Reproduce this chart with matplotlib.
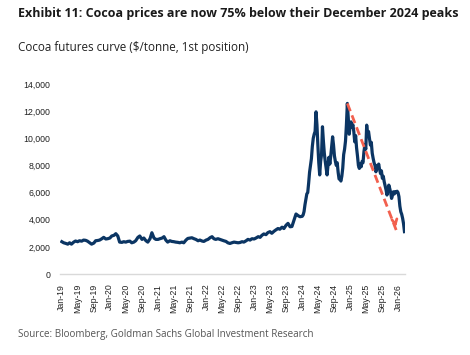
import numpy as np
import pandas as pd
from matplotlib import pyplot as plt

# cocoa 1st position, $/tonne
# 2019-2023 read twice a month, 2024 onward read weekly
early_values = [
    2380, 2300, 2250, 2200, 2300, 2200, 2350, 2430, 2380, 2450, 2420, 2500,
    2480, 2420, 2300, 2200, 2280, 2450, 2470, 2500, 2600, 2700, 2580, 2600,
    2650, 2800, 2850, 2970, 2800, 2350, 2330, 2380, 2350, 2400, 2420, 2300,
    2350, 2450, 2700, 2800, 2550, 2650, 2450, 2350, 2600, 3040, 2650, 2550,
    2550, 2600, 2650, 2750, 2500, 2350, 2450, 2400, 2380, 2350, 2330, 2300,
    2350, 2300, 2500, 2620, 2650, 2670, 2600, 2550, 2450, 2500, 2430, 2400,
    2500, 2550, 2680, 2750, 2600, 2550, 2600, 2550, 2500, 2450, 2400, 2300,
    2250, 2300, 2350, 2330, 2300, 2320, 2380, 2350, 2450, 2550, 2500, 2600,
    2580, 2650, 2750, 2700, 2850, 2950, 2900, 3050, 3120, 3000, 3150, 3250,
    3350, 3300, 3450, 3350, 3600, 3730, 3480, 3500, 4000, 4420, 4300, 4220,
]
late_values = [
    4250, 4350, 4600, 5100, 5500, 5900, 6000, 6700, 7500, 8000, 8500, 9400,
    10000, 10300, 10500, 11950, 11000, 9500, 8200, 7300, 8300, 8800, 10850, 9800,
    8900, 8300, 7800, 7300, 8000, 8600, 8100, 8700, 9400, 10110, 9500, 8700,
    8300, 8000, 8200, 7500, 7000, 7000, 6850, 7200, 7800, 8800, 9200, 9800,
    11000, 12570, 11500, 10300, 10900,
    11210, 10800, 11000, 10500, 9740, 10200, 9300, 8700, 8000, 7780, 8100, 7900,
    8300, 8200, 9000, 9500, 9200, 10970, 10200, 10500, 9990, 9500, 9700, 8900,
    8520, 8200, 8000, 7530, 8000, 7780, 8100, 7700, 7400, 7600, 7050, 7200,
    6800, 6500, 6200, 5820, 6100, 6550, 6300, 6000, 5570, 5800, 6060, 5900,
    6060, 6000, 6100, 6000,
    5700, 5000, 4590, 4400, 4100, 3700, 3120,
]
early_dates = pd.date_range('2019-01-01', periods=len(early_values), freq='SMS')
late_dates = pd.date_range('2024-01-01', periods=len(late_values), freq='W-MON')
dates = early_dates.append(late_dates)
prices = np.array(early_values + late_values)

arrow_end = (pd.Timestamp('2025-12-15'), 3240)
tick_dates = pd.date_range('2019-01-01', '2026-01-01', freq='4MS')

navy = '#0b3563'
salmon = '#f2604e'

fig = plt.figure(figsize=(4.7, 3.55), dpi=100)
ax = fig.add_axes([60/470, 1-274/355, 345/470, 190/355])

ax.plot(dates, prices, color=navy, lw=2.3, solid_joinstyle='round')

# dashed arrow from the December 2024 peak
i_peak = int(np.argmax(prices))
start = (dates[i_peak], prices[i_peak])
ax.plot([start[0], arrow_end[0]], [start[1], arrow_end[1]], color=salmon, lw=2.0,
        ls=(0, (3, 1.6)), zorder=3)
ax.annotate('', xy=arrow_end, xytext=(arrow_end[0] - pd.Timedelta(days=12), arrow_end[1] + 700),
            arrowprops=dict(arrowstyle='->', color=salmon, lw=2.0, mutation_scale=9), zorder=3)

ax.set_ylim(0, 14000)
ax.set_xlim(pd.Timestamp('2018-12-18'), pd.Timestamp('2026-02-20'))
ax.set_yticks(np.arange(0, 14001, 2000))
ax.set_yticklabels(['{:,}'.format(v) for v in range(0, 14001, 2000)])
ax.set_xticks(tick_dates)
ax.set_xticklabels([d.strftime('%b-%y') for d in tick_dates], rotation=90)
ax.tick_params(length=0, labelsize=6.3, colors='#222222', pad=7)
for lab in ax.get_xticklabels() + ax.get_yticklabels():
    lab.set_family('Liberation Sans')
for s in ['top', 'right', 'left']:
    ax.spines[s].set_visible(False)
ax.spines['bottom'].set_color('#d9d9d9')
ax.spines['bottom'].set_linewidth(1.0)

fig.text(18/470, 1-14/355, 'Exhibit 11: Cocoa prices are now 75% below their December 2024 peaks',
         fontsize=9.0, fontweight='bold', family='Open Sans', color='#1a1a1a', va='center')
fig.text(18/470, 1-48/355, 'Cocoa futures curve ($/tonne, 1st position)',
         fontsize=8.4, family='Open Sans', color='#222222', va='center')
fig.text(18/470, 1-334/355, 'Source: Bloomberg, Goldman Sachs Global Investment Research',
         fontsize=7.1, family='Open Sans', color='#555555', va='center')

fig.savefig('out.png', dpi=100)
